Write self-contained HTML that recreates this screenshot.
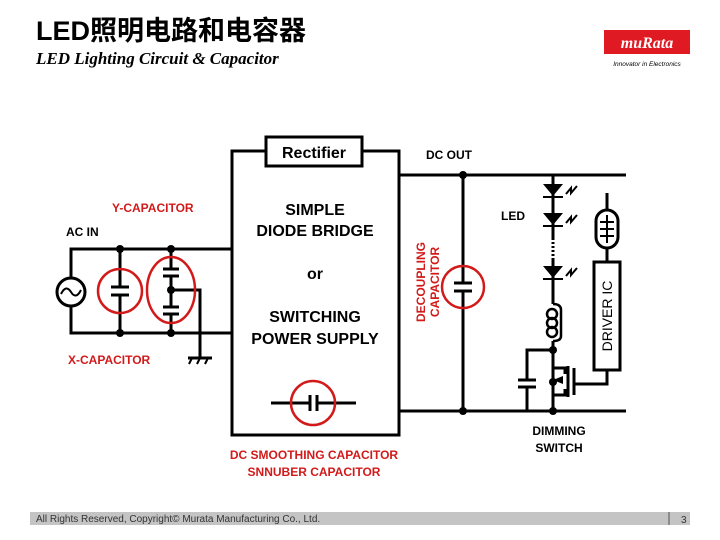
<!DOCTYPE html>
<html><head><meta charset="utf-8"><style>
html,body{margin:0;padding:0;background:#fff;}
svg{display:block;}
text{font-family:"Liberation Sans","Noto Sans CJK SC",sans-serif;}
</style></head><body>
<svg width="720" height="540" viewBox="0 0 720 540" xmlns="http://www.w3.org/2000/svg">
<rect width="720" height="540" fill="#fff"/>
<!-- header -->
<text x="36" y="40" font-size="27" font-weight="bold" fill="#000">LED照明电路和电容器</text>
<text x="36" y="64" font-size="17" font-style="italic" font-weight="bold" style="font-family:'Liberation Serif',serif" fill="#000">LED Lighting Circuit &amp; Capacitor</text>
<rect x="604" y="30" width="86" height="24" fill="#e01a22"/>
<text x="647" y="48" font-size="16" font-style="italic" font-weight="bold" style="font-family:'Liberation Serif',serif" fill="#fff" text-anchor="middle">muRata</text>
<text x="647" y="66" font-size="6.5" font-style="italic" fill="#000" text-anchor="middle">Innovator in Electronics</text>

<g stroke="#000" stroke-width="3" fill="none">
<rect x="232" y="151" width="167" height="284"/>
<polyline points="232,249 71,249 71,278"/>
<polyline points="232,333 71,333 71,306"/>
<circle cx="71" cy="292" r="14"/>
<path d="M61,294 q5,-10 10,-2 q5,8 10,-2" stroke-width="2"/>
<line x1="120" y1="249" x2="120" y2="287"/><line x1="120" y1="295" x2="120" y2="333"/>
<line x1="111" y1="287" x2="129" y2="287"/><line x1="111" y1="295" x2="129" y2="295"/>
<line x1="171" y1="249" x2="171" y2="269"/><line x1="171" y1="276" x2="171" y2="307"/><line x1="171" y1="314" x2="171" y2="333"/>
<line x1="163" y1="269" x2="179" y2="269"/><line x1="163" y1="276" x2="179" y2="276"/>
<line x1="163" y1="307" x2="179" y2="307"/><line x1="163" y1="314" x2="179" y2="314"/>
<polyline points="171,290 200,290 200,358"/>
<line x1="188" y1="358" x2="212" y2="358"/>
<line x1="192" y1="358" x2="189" y2="364" stroke-width="2"/><line x1="200" y1="358" x2="197" y2="364" stroke-width="2"/><line x1="208" y1="358" x2="205" y2="364" stroke-width="2"/>
<line x1="271" y1="403" x2="310" y2="403"/><line x1="317" y1="403" x2="356" y2="403"/>
<line x1="310" y1="395" x2="310" y2="411"/><line x1="317" y1="395" x2="317" y2="411"/>
<line x1="399" y1="175" x2="626" y2="175"/>
<line x1="399" y1="411" x2="626" y2="411"/>
<line x1="463" y1="175" x2="463" y2="283"/><line x1="463" y1="291" x2="463" y2="411"/>
<line x1="454" y1="283" x2="472" y2="283"/><line x1="454" y1="291" x2="472" y2="291"/>
<line x1="553" y1="175" x2="553" y2="240"/>
<line x1="553" y1="242" x2="553" y2="258" stroke-dasharray="2,2"/>
<line x1="553" y1="258" x2="553" y2="304"/>
<path d="M553,304 q8,0 8,6" stroke-width="2.5"/>
<ellipse cx="552" cy="314" rx="5" ry="5" stroke-width="2.5"/>
<ellipse cx="552" cy="323" rx="5" ry="5" stroke-width="2.5"/>
<ellipse cx="552" cy="332" rx="5" ry="5" stroke-width="2.5"/>
<path d="M561,310 v26 q0,5 -8,5" stroke-width="2.5"/>
<line x1="553" y1="341" x2="553" y2="411"/>
<polyline points="553,350 527,350 527,380"/><line x1="527" y1="387" x2="527" y2="411"/>
<line x1="518" y1="380" x2="536" y2="380"/><line x1="518" y1="387" x2="536" y2="387"/>
<polyline points="553,368 565,368 565,374"/><polyline points="553,395 565,395 565,389"/>
<line x1="568" y1="366" x2="568" y2="397"/>
<line x1="574" y1="368" x2="574" y2="395"/>
<polyline points="574,384 607,384 607,370"/>
<rect x="594" y="262" width="26" height="108"/>
<line x1="607" y1="193" x2="607" y2="210"/><line x1="607" y1="248" x2="607" y2="262"/>
<rect x="596" y="210" width="22" height="38" rx="11"/>
<path d="M600,222 h14 M600,229 h14 M600,236 h14 M607,215 v28" stroke-width="2"/>
</g>
<g fill="#000">
<circle cx="120" cy="249" r="4"/><circle cx="120" cy="333" r="4"/>
<circle cx="171" cy="249" r="4"/><circle cx="171" cy="333" r="4"/><circle cx="171" cy="290" r="4"/>
<circle cx="463" cy="175" r="4"/><circle cx="463" cy="411" r="4"/>
<circle cx="553" cy="411" r="4"/><circle cx="553" cy="350" r="4"/><circle cx="553" cy="382" r="4"/>
<polygon points="563,376 553,380 563,384"/>
<polygon points="543,184 563,184 553,196"/><rect x="543" y="196" width="20" height="2"/>
<polygon points="543,213 563,213 553,225"/><rect x="543" y="225" width="20" height="2"/>
<polygon points="543,266 563,266 553,278"/><rect x="543" y="278" width="20" height="2"/>
</g>
<g stroke="#000" stroke-width="2" fill="none">
<path d="M566,194 l5,-6 l0,5 l6,-7"/><path d="M566,223 l5,-6 l0,5 l6,-7"/><path d="M566,276 l5,-6 l0,5 l6,-7"/>
</g>
<g stroke="#d21a1a" stroke-width="2.5" fill="none">
<circle cx="120" cy="291" r="22"/>
<ellipse cx="171" cy="290" rx="24" ry="33"/>
<circle cx="313" cy="403" r="22"/>
<circle cx="463" cy="287" r="21"/>
</g>
<rect x="266" y="137" width="96" height="29" fill="#fff" stroke="#000" stroke-width="3"/>
<text x="314" y="158" font-size="16" font-weight="bold" text-anchor="middle">Rectifier</text>
<g font-size="16" font-weight="bold" text-anchor="middle">
<text x="315" y="215">SIMPLE</text><text x="315" y="236">DIODE BRIDGE</text>
<text x="315" y="279">or</text>
<text x="315" y="322">SWITCHING</text><text x="315" y="344">POWER SUPPLY</text>
</g>
<g font-size="12" font-weight="bold">
<text x="426" y="159">DC OUT</text>
<text x="66" y="236">AC IN</text>
<text x="501" y="220">LED</text>
<text x="559" y="435" text-anchor="middle">DIMMING</text>
<text x="559" y="452" text-anchor="middle">SWITCH</text>
</g>
<g font-size="12" font-weight="bold" fill="#d21a1a">
<text x="112" y="212">Y-CAPACITOR</text>
<text x="68" y="364">X-CAPACITOR</text>
<text x="314" y="459" text-anchor="middle">DC SMOOTHING CAPACITOR</text>
<text x="314" y="476" text-anchor="middle">SNNUBER CAPACITOR</text>
<text transform="translate(425,282) rotate(-90)" text-anchor="middle">DECOUPLING</text>
<text transform="translate(439,282) rotate(-90)" text-anchor="middle">CAPACITOR</text>
</g>
<text transform="translate(612,316) rotate(-90)" font-size="14" text-anchor="middle">DRIVER IC</text>
<rect x="30" y="512" width="660" height="13" fill="#c4c4c4"/>
<text x="36" y="522" font-size="10" fill="#333">All Rights Reserved, Copyright©  Murata Manufacturing Co., Ltd.</text>
<line x1="669" y1="512" x2="669" y2="525" stroke="#555" stroke-width="1"/>
<text x="681" y="523" font-size="10" fill="#333">3</text>
</svg>
</body></html>
